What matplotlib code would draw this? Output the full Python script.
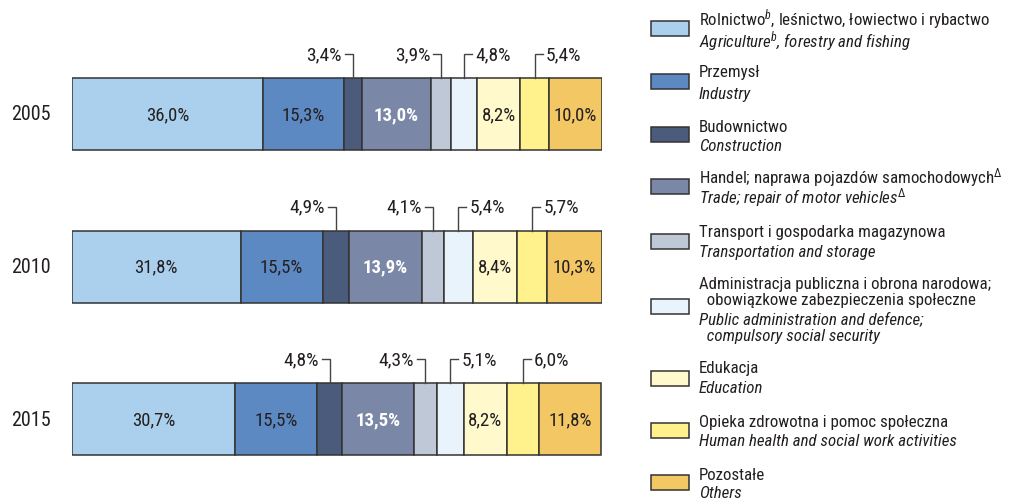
import matplotlib
matplotlib.use("Agg")
import matplotlib.pyplot as plt
from matplotlib.patches import Rectangle
from matplotlib import font_manager

years = ["2005", "2010", "2015"]
sectors = ["Agriculture", "Industry", "Construction", "Trade", "Transport",
           "Administration", "Education", "Health", "Others"]
share_2005 = [36.0, 15.3, 3.4, 13.0, 3.9, 4.8, 8.2, 5.4, 10.0]
share_2010 = [31.8, 15.5, 4.9, 13.9, 4.1, 5.4, 8.4, 5.7, 10.3]
share_2015 = [30.7, 15.5, 4.8, 13.5, 4.3, 5.1, 8.2, 6.0, 11.8]
shares = [share_2005, share_2010, share_2015]

colors = ["#abd0ed", "#5d89c3", "#4a5b7b", "#7a87a6", "#bfc8d6",
          "#e8f3fb", "#fff9cb", "#fff28c", "#f3c764"]

# how each segment is labelled: inside bar, inside bold white, callout left/right
label_mode = ["in", "in", "left", "bold", "left", "right", "in", "right", "in"]

legend_pl = ["Rolnictwo$^{b}$, leśnictwo, łowiectwo i rybactwo",
             "Przemysł",
             "Budownictwo",
             "Handel; naprawa pojazdów samochodowych$^{\\Delta}$",
             "Transport i gospodarka magazynowa",
             "Administracja publiczna i obrona narodowa;\n  obowiązkowe zabezpieczenia społeczne",
             "Edukacja",
             "Opieka zdrowotna i pomoc społeczna",
             "Pozostałe"]
legend_en = ["Agriculture$^{b}$, forestry and fishing",
             "Industry",
             "Construction",
             "Trade; repair of motor vehicles$^{\\Delta}$",
             "Transportation and storage",
             "Public administration and defence;\n  compulsory social security",
             "Education",
             "Human health and social work activities",
             "Others"]

# pick a narrow sans font if one is present
names = {f.name for f in font_manager.fontManager.ttflist}
fam, scale = "Liberation Sans", 0.84
for cand in ["Liberation Sans Narrow", "Arial Narrow", "Roboto Condensed", "Archivo Narrow"]:
    if cand in names:
        fam, scale = cand, 1.0
        break
plt.rcParams["font.family"] = [fam, "DejaVu Sans"]
plt.rcParams["mathtext.fontset"] = "custom"
plt.rcParams["mathtext.rm"] = fam
plt.rcParams["mathtext.it"] = fam + ":italic"
plt.rcParams["mathtext.default"] = "it"

fs_year = 14.5 * scale
fs_in = 13.5 * scale
fs_call = 14 * scale
fs_leg = 12.2 * scale

W, H = 1010, 502
fig = plt.figure(figsize=(W / 100, H / 100), dpi=100)
ax = fig.add_axes([72 / W, 0, (602 - 72) / W, 1])

row_px = 152.5          # pixels between bar centres
top_px = 115            # centre of first bar
bar_h = 72 / row_px
ax.set_ylim((H - top_px) / row_px, -top_px / row_px)
ax.set_xlim(0, 100)
px = 100 / (602 - 72)   # data units per pixel along x
py = 1 / row_px         # data units per pixel along y

txt_col = "#231f20"
for i, row in enumerate(shares):
    left = 0
    for j, v in enumerate(row):
        ax.barh(i, v, left=left, height=bar_h, color=colors[j],
                edgecolor="#333333", linewidth=1.1)
        cx = left + v / 2
        lab = f"{v:.1f}%".replace(".", ",")
        mode = label_mode[j]
        if mode == "in":
            ax.text(cx, i, lab, ha="center", va="center", fontsize=fs_in, color=txt_col)
        elif mode == "bold":
            ax.text(cx, i, lab, ha="center", va="center", fontsize=fs_in,
                    color="white", fontweight="bold")
        else:
            ytop = i - bar_h / 2
            yl = ytop - 24 * py
            sign = -1 if mode == "left" else 1
            xs = cx + sign * 8 * px
            ax.plot([xs, cx, cx], [yl, yl, ytop], color="#444444", lw=1.0,
                    solid_joinstyle="miter")
            ax.text(xs + sign * 3 * px, yl, lab, ha="right" if sign < 0 else "left",
                    va="center", fontsize=fs_call, color=txt_col)
        left += v
    ax.text(-px * 41, i, years[i], ha="center", va="center", fontsize=fs_year,
            color=txt_col)

ax.axis("off")

# legend drawn at the right
line_y = [(20, 42), (73, 95), (127, 147), (178, 198), (232, 252),
          (285, 320), (368, 389), (422, 442), (475, 494)]
patch_y = [29.5, 82.5, 135, 187.5, 242.5, 307.5, 379.5, 431, 483.5]
for k in range(len(sectors)):
    fig.add_artist(Rectangle((651 / W, 1 - (patch_y[k] + 7.5) / H), 38 / W, 15 / H,
                             facecolor=colors[k], edgecolor="#333333", lw=1.1,
                             transform=fig.transFigure))
    y1, y2 = line_y[k]
    if "\n" in legend_pl[k]:
        a, b = legend_pl[k].split("\n")
        fig.text(699 / W, 1 - y1 / H, a, fontsize=fs_leg, va="center", color=txt_col)
        fig.text(699 / W, 1 - (y1 + 16) / H, b, fontsize=fs_leg, va="center", color=txt_col)
        a, b = legend_en[k].split("\n")
        fig.text(699 / W, 1 - y2 / H, a, fontsize=fs_leg, va="center", style="italic",
                 color=txt_col)
        fig.text(699 / W, 1 - (y2 + 17) / H, b, fontsize=fs_leg, va="center",
                 style="italic", color=txt_col)
    else:
        fig.text(699 / W, 1 - y1 / H, legend_pl[k], fontsize=fs_leg, va="center",
                 color=txt_col)
        fig.text(699 / W, 1 - y2 / H, legend_en[k], fontsize=fs_leg, va="center",
                 style="italic", color=txt_col)

fig.savefig("out.png", dpi=100)
